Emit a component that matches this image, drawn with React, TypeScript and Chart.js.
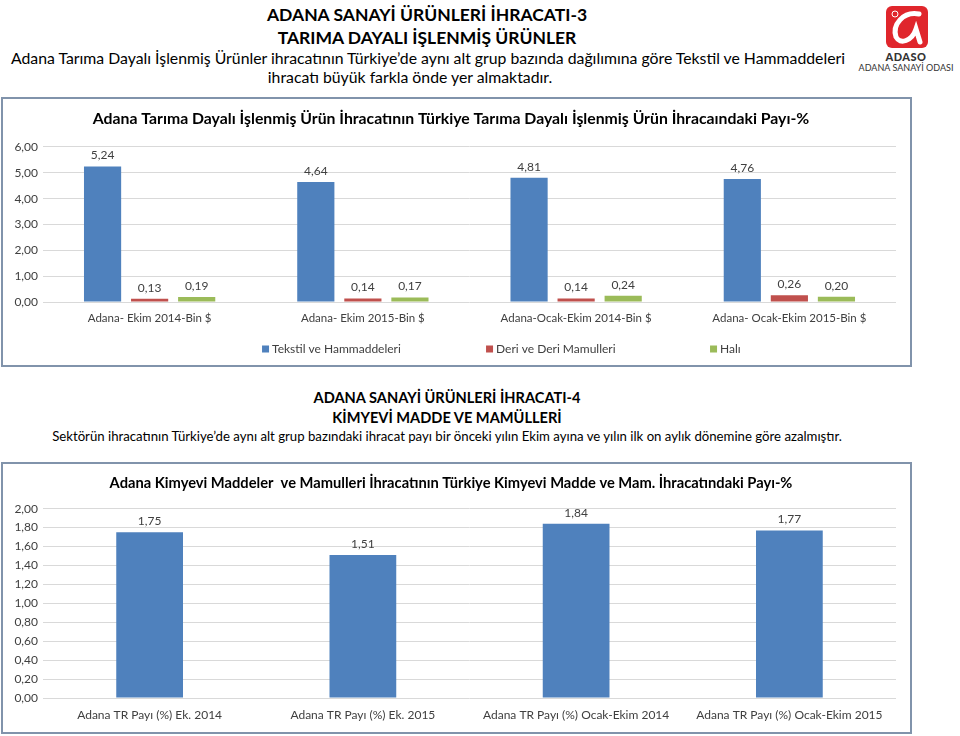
import React, { useEffect, useRef } from "react";
import { Chart, registerables } from "chart.js";

Chart.register(...registerables);

const FONT = "Lato, 'Open Sans', sans-serif";

// ---- Chart 1 data ----
const categories1 = [
  "Adana- Ekim 2014-Bin $",
  "Adana- Ekim 2015-Bin $",
  "Adana-Ocak-Ekim 2014-Bin $",
  "Adana- Ocak-Ekim 2015-Bin $",
];
const seriesNames1 = ["Tekstil ve Hammaddeleri", "Deri ve Deri Mamulleri", "Halı"];
const tekstil = [5.24, 4.64, 4.81, 4.76];
const deri = [0.13, 0.14, 0.14, 0.26];
const hali = [0.19, 0.17, 0.24, 0.2];
const colors1 = ["#4f81bd", "#c0504d", "#9bbb59"];
const title1 =
  "Adana Tarıma Dayalı İşlenmiş Ürün İhracatının Türkiye Tarıma Dayalı İşlenmiş Ürün İhracaındaki Payı-%";

// ---- Chart 2 data ----
const categories2 = [
  "Adana TR Payı (%) Ek. 2014",
  "Adana TR Payı (%) Ek. 2015",
  "Adana TR Payı (%) Ocak-Ekim 2014",
  "Adana TR Payı (%) Ocak-Ekim 2015",
];
const kimyevi = [1.75, 1.51, 1.84, 1.77];
const title2 =
  "Adana Kimyevi Maddeler  ve Mamulleri İhracatının Türkiye Kimyevi Madde ve Mam. İhracatındaki Payı-%";

const fmt = (v: number) => Number(v).toFixed(2).replace(".", ",");
const TEXT = "#404040";
const GRID = "#d9d9d9";

const valueLabels = {
  id: "valueLabels",
  afterDatasetsDraw(chart: any) {
    const ctx = chart.ctx;
    ctx.save();
    ctx.font = `12px ${FONT}`;
    ctx.fillStyle = TEXT;
    ctx.textAlign = "center";
    ctx.textBaseline = "bottom";
    chart.data.datasets.forEach((ds: any, i: number) => {
      const meta = chart.getDatasetMeta(i);
      meta.data.forEach((el: any, j: number) => {
        ctx.fillText(fmt(ds.data[j]), el.x, el.y - 5);
      });
    });
    ctx.restore();
  },
};

const customLegend = {
  id: "customLegend",
  afterDraw(chart: any, _args: any, opts: any) {
    if (!opts || !opts.show) return;
    const ctx = chart.ctx;
    ctx.save();
    ctx.font = `12px ${FONT}`;
    ctx.textBaseline = "middle";
    ctx.textAlign = "left";
    const y = opts.y;
    chart.data.datasets.forEach((ds: any, i: number) => {
      const x = chart.width * opts.start + i * opts.pitch;
      ctx.fillStyle = ds.backgroundColor;
      ctx.fillRect(x, y - 3.5, 7, 7);
      ctx.fillStyle = TEXT;
      ctx.fillText(ds.label, x + 10, y);
    });
    ctx.restore();
  },
};

function useChart(ref: React.RefObject<HTMLCanvasElement>, cfg: () => any) {
  useEffect(() => {
    if (!ref.current) return;
    const c = new Chart(ref.current, cfg());
    return () => c.destroy();
  }, []);
}

function baseScales(max: number, step: number, xPad: number, xHeight: number, xSize: number) {
  return {
    x: {
      grid: { display: false, drawTicks: false },
      border: { display: false },
      ticks: { color: TEXT, font: { family: FONT, size: xSize }, padding: xPad, maxRotation: 0, autoSkip: false },
      afterFit: (s: any) => {
        s.height = xHeight;
      },
    },
    y: {
      min: 0,
      max,
      ticks: {
        stepSize: step,
        color: TEXT,
        font: { family: FONT, size: 12 },
        padding: 5,
        callback: (v: any) => fmt(v),
      },
      grid: { color: GRID, drawTicks: false, lineWidth: 1 },
      border: { display: false },
      afterFit: (s: any) => {
        s.width = 37;
      },
    },
  };
}

function Chart1() {
  const ref = useRef<HTMLCanvasElement>(null);
  useChart(ref, () => ({
    type: "bar",
    data: {
      labels: categories1,
      datasets: [tekstil, deri, hali].map((d, i) => ({
        label: seriesNames1[i],
        data: d,
        backgroundColor: colors1[i],
        categoryPercentage: 0.662,
        barPercentage: 0.79,
      })),
    },
    options: {
      responsive: false,
      animation: false,
      layout: { padding: { left: 3, right: 14, top: 0, bottom: 32 } },
      plugins: {
        legend: { display: false },
        tooltip: { enabled: false },
        title: {
          display: true,
          text: title1,
          color: "#000",
          font: { family: FONT, size: 15.8, weight: "bold" },
          padding: { top: 10, bottom: 19 },
        },
        customLegend: { show: true, y: 250, start: 0.2856, pitch: 224 },
      },
      scales: baseScales(6, 1, 9, 31, 11.5),
    },
    plugins: [valueLabels, customLegend],
  }));
  return <canvas ref={ref} width={907} height={266} style={{ display: "block", width: 907, height: 266 }} />;
}

function Chart2() {
  const ref = useRef<HTMLCanvasElement>(null);
  useChart(ref, () => ({
    type: "bar",
    data: {
      labels: categories2,
      datasets: [
        {
          label: "Kimyevi",
          data: kimyevi,
          backgroundColor: "#4f81bd",
          categoryPercentage: 1,
          barPercentage: 0.313,
        },
      ],
    },
    options: {
      responsive: false,
      animation: false,
      layout: { padding: { left: 3, right: 14, top: 0, bottom: 0 } },
      plugins: {
        legend: { display: false },
        tooltip: { enabled: false },
        title: {
          display: true,
          text: title2,
          color: "#000",
          font: { family: FONT, size: 14.7, weight: "bold" },
          padding: { top: 10, bottom: 17 },
        },
      },
      scales: baseScales(2, 0.2, 10, 34, 12),
    },
    plugins: [valueLabels],
  }));
  return <canvas ref={ref} width={907} height={268} style={{ display: "block", width: 907, height: 268 }} />;
}

const abs = (left: number, top: number, extra: any = {}) => ({
  position: "absolute" as const,
  left,
  top,
  ...extra,
});

function CenterLine({ cx, y, text, size, bold, color = "#000" }: any) {
  return (
    <div
      style={abs(cx - 480, y - size * 0.6, {
        width: 960,
        textAlign: "center",
        fontSize: size,
        lineHeight: `${size * 1.2}px`,
        fontWeight: bold ? 700 : 400,
        color,
        whiteSpace: "nowrap",
      })}
    >
      {text}
    </div>
  );
}

function Logo() {
  return (
    <>
      <svg style={abs(885, 5)} width={44} height={44} viewBox="0 0 44 44">
        <rect x={1} y={1} width={42} height={42} rx={6} fill="#e0262c" />
        <path d="M34 9 C18 6 7 20 11 32 C15 40 27 36 31 24 L35 37" stroke="#fff" strokeWidth={5} fill="none" strokeLinecap="round" />
        <circle cx={10} cy={9} r={3} stroke="#fff" strokeWidth={1} fill="none" />
      </svg>
      <div style={abs(856, 50, { width: 100, textAlign: "center", fontSize: 11, fontWeight: 900, color: "#333", letterSpacing: 0.5 })}>
        ADASO
      </div>
      <div style={abs(851, 62, { width: 110, textAlign: "center", fontSize: 9, color: "#333", whiteSpace: "nowrap" })}>
        ADANA SANAYİ ODASI
      </div>
    </>
  );
}

export default function App() {
  return (
    <div
      style={{
        position: "fixed",
        left: 0,
        top: 0,
        width: 960,
        height: 736,
        background: "#fff",
        fontFamily: FONT,
        overflow: "hidden",
      }}
    >
      <CenterLine cx={427} y={14} text="ADANA SANAYİ ÜRÜNLERİ İHRACATI-3" size={17.5} bold />
      <CenterLine cx={427} y={37} text="TARIMA DAYALI İŞLENMİŞ ÜRÜNLER" size={17.5} bold />
      <CenterLine
        cx={428}
        y={58}
        text="Adana Tarıma Dayalı İşlenmiş Ürünler ihracatının Türkiye’de aynı alt grup bazında dağılımına göre Tekstil ve Hammaddeleri"
        size={15.8}
      />
      <CenterLine cx={410} y={77} text="ihracatı büyük farkla önde yer almaktadır." size={15.8} />
      <Logo />

      <div style={abs(1, 97, { border: "2px solid #8193ab", background: "#fff" })}>
        <Chart1 />
      </div>

      <CenterLine cx={447} y={398} text="ADANA SANAYİ ÜRÜNLERİ İHRACATI-4" size={14.6} bold />
      <CenterLine cx={447} y={418} text="KİMYEVİ MADDE VE MAMÜLLERİ" size={14.6} bold />
      <CenterLine
        cx={447}
        y={437}
        text="Sektörün ihracatının Türkiye’de aynı alt grup bazındaki ihracat payı bir önceki yılın Ekim ayına ve yılın ilk on aylık dönemine göre azalmıştır."
        size={13.2}
      />

      <div style={abs(1, 462, { border: "2px solid #8193ab", background: "#fff" })}>
        <Chart2 />
      </div>
    </div>
  );
}
